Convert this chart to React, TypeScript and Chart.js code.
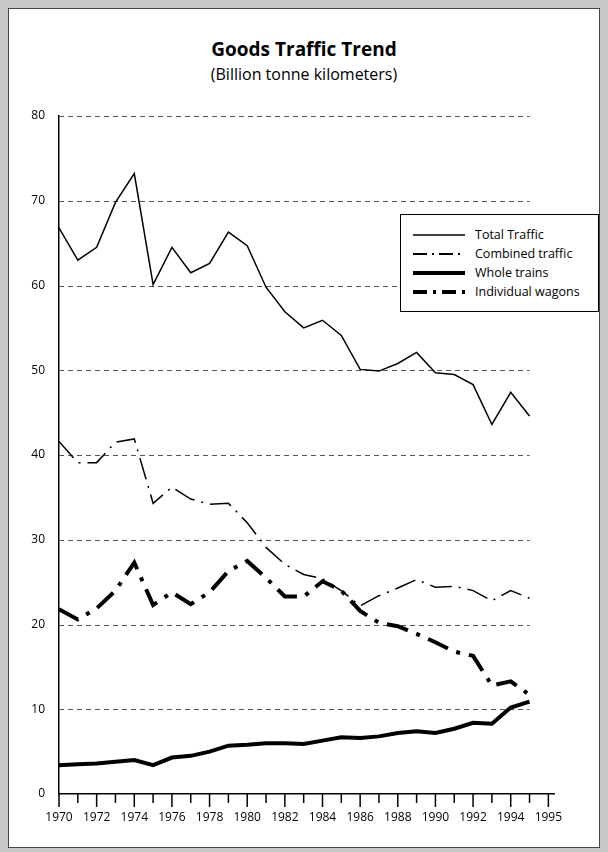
import React, { useEffect, useRef } from "react";
import Chart from "chart.js/auto";

const years = [
  1970, 1971, 1972, 1973, 1974, 1975, 1976, 1977, 1978, 1979, 1980, 1981, 1982,
  1983, 1984, 1985, 1986, 1987, 1988, 1989, 1990, 1991, 1992, 1993, 1994, 1995,
];
const totalTraffic = [
  66.8, 63, 64.5, 69.8, 73.2, 60.1, 64.5, 61.5, 62.6, 66.3, 64.7, 59.8, 56.9,
  55, 55.9, 54.1, 50.1, 49.9, 50.8, 52.1, 49.7, 49.5, 48.3, 43.6, 47.4, 44.6,
];
const combinedTraffic = [
  41.6, 39.1, 39.1, 41.5, 41.9, 34.3, 36.2, 34.8, 34.2, 34.3, 32, 29.1, 27.1,
  25.9, 25.4, 24, 22.2, 23.4, 24.3, 25.3, 24.4, 24.5, 24, 22.8, 24, 23.1,
];
const wholeTrains = [
  3.4, 3.5, 3.6, 3.8, 4.0, 3.4, 4.3, 4.5, 5.0, 5.7, 5.8, 6.0, 6.0, 5.9, 6.3,
  6.7, 6.6, 6.8, 7.2, 7.4, 7.2, 7.7, 8.4, 8.3, 10.2, 10.9,
];
const individualWagons = [
  21.8, 20.6, 21.9, 24.0, 27.3, 22.3, 23.8, 22.4, 23.8, 26.3, 27.5, 25.5, 23.3,
  23.3, 25.1, 24.0, 21.6, 20.2, 19.8, 18.9, 17.9, 16.8, 16.3, 12.8, 13.3, 11.7,
];
const yTicks = [0, 10, 20, 30, 40, 50, 60, 70, 80];
const xTicks = [...years, 1996];

const font = "'Open Sans', 'Noto Sans', sans-serif";

const gridPlugin = {
  id: "shortGrid",
  beforeDatasetsDraw(chart: any) {
    const { ctx, scales } = chart;
    const x0 = scales.x.getPixelForValue(years[0]);
    const x1 = scales.x.getPixelForValue(years[years.length - 1]);
    ctx.save();
    ctx.strokeStyle = "#555";
    ctx.lineWidth = 1;
    ctx.setLineDash([5, 4]);
    yTicks.slice(1).forEach((v) => {
      const y = Math.round(scales.y.getPixelForValue(v)) + 0.5;
      ctx.beginPath();
      ctx.moveTo(x0, y);
      ctx.lineTo(x1, y);
      ctx.stroke();
    });
    ctx.setLineDash([]);
    ctx.strokeStyle = "#000";
    ctx.lineWidth = 1.5;
    const yb = scales.y.getPixelForValue(0);
    xTicks.forEach((v, i) => {
      const x = scales.x.getPixelForValue(v);
      ctx.beginPath();
      ctx.moveTo(x, yb);
      ctx.lineTo(x, yb + (i % 2 === 0 || v === 1996 ? 13 : 9));
      ctx.stroke();
    });
    ctx.restore();
  },
};

const legendItems = [
  { label: "Total Traffic", width: 1.5, dash: "" },
  { label: "Combined traffic", width: 2, dash: "14 5 2 5" },
  { label: "Whole trains", width: 4, dash: "" },
  { label: "Individual wagons", width: 4, dash: "14 6 3 6" },
];

export default function App() {
  const ref = useRef<HTMLCanvasElement | null>(null);

  useEffect(() => {
    if (!ref.current) return;
    const ds = (label: string, data: number[], w: number, dash: number[]) => ({
      label,
      data: data.map((v, i) => ({ x: years[i], y: v })),
      borderColor: "#000",
      borderWidth: w,
      borderDash: dash,
      pointRadius: 0,
      tension: 0,
      fill: false,
    });
    const chart = new Chart(ref.current, {
      type: "line",
      data: {
        datasets: [
          ds("Total Traffic", totalTraffic, 1.5, []),
          ds("Combined traffic", combinedTraffic, 1.5, [22, 7, 2, 7]),
          ds("Whole trains", wholeTrains, 4, []),
          ds("Individual wagons", individualWagons, 4, [22, 9, 4, 9]),
        ],
      },
      options: {
        animation: false,
        responsive: false,
        layout: { padding: { top: 107, right: 47, bottom: 20, left: 0 } },
        plugins: { legend: { display: false }, tooltip: { enabled: false } },
        scales: {
          x: {
            type: "linear",
            min: 1970,
            max: 1996.3,
            afterFit: (s: any) => {
              s.height = 35;
            },
            afterBuildTicks: (s: any) => {
              s.ticks = xTicks.map((v) => ({ value: v }));
            },
            ticks: {
              autoSkip: false,
              maxRotation: 0,
              color: "#000",
              font: { family: font, size: 12 },
              padding: 7,
              callback: (v: any) =>
                v === 1996 ? "1995" : v % 2 === 0 && v <= 1994 ? String(v) : "",
            },
            grid: {
              drawOnChartArea: false,
              color: "rgba(0,0,0,0)",
              tickLength: 9,
            },
            border: { color: "#000", width: 1.5 },
          },
          y: {
            min: 0,
            max: 80,
            afterFit: (s: any) => {
              s.width = 50;
            },
            afterBuildTicks: (s: any) => {
              s.ticks = yTicks.map((v) => ({ value: v }));
            },
            ticks: {
              color: "#000",
              font: { family: font, size: 12 },
              padding: 6,
            },
            grid: { display: false },
            border: { color: "#000", width: 1.5 },
          },
        },
      },
      plugins: [gridPlugin],
    });
    return () => chart.destroy();
  }, []);

  return (
    <div
      style={{
        position: "fixed",
        inset: 0,
        background: "#c8c8c8",
      }}
    >
      <div
        style={{
          position: "absolute",
          left: 8,
          top: 8,
          width: 590,
          height: 838,
          background: "#fff",
          border: "1px solid #444",
          fontFamily: font,
        }}
      >
        <div
          style={{
            position: "absolute",
            top: 27,
            width: "100%",
            textAlign: "center",
            fontWeight: 700,
            fontSize: 19,
          }}
        >
          Goods Traffic Trend
        </div>
        <div
          style={{
            position: "absolute",
            top: 54,
            width: "100%",
            textAlign: "center",
            fontSize: 16,
          }}
        >
          (Billion tonne kilometers)
        </div>
        <canvas
          ref={ref}
          width={592}
          height={840}
          style={{ position: "absolute", left: 0, top: 0 }}
        />
        <div
          style={{
            position: "absolute",
            left: 391,
            top: 205,
            width: 199,
            height: 98,
            border: "1.5px solid #000",
            background: "#fff",
            boxSizing: "border-box",
            padding: "10px 0 0 12px",
            fontSize: 12.5,
          }}
        >
          {legendItems.map((it) => (
            <div
              key={it.label}
              style={{ display: "flex", alignItems: "center", height: 19 }}
            >
              <svg width={52} height={10} style={{ marginRight: 10 }}>
                <line
                  x1={0}
                  y1={5}
                  x2={52}
                  y2={5}
                  stroke="#000"
                  strokeWidth={it.width}
                  strokeDasharray={it.dash}
                />
              </svg>
              <span>{it.label}</span>
            </div>
          ))}
        </div>
      </div>
    </div>
  );
}
